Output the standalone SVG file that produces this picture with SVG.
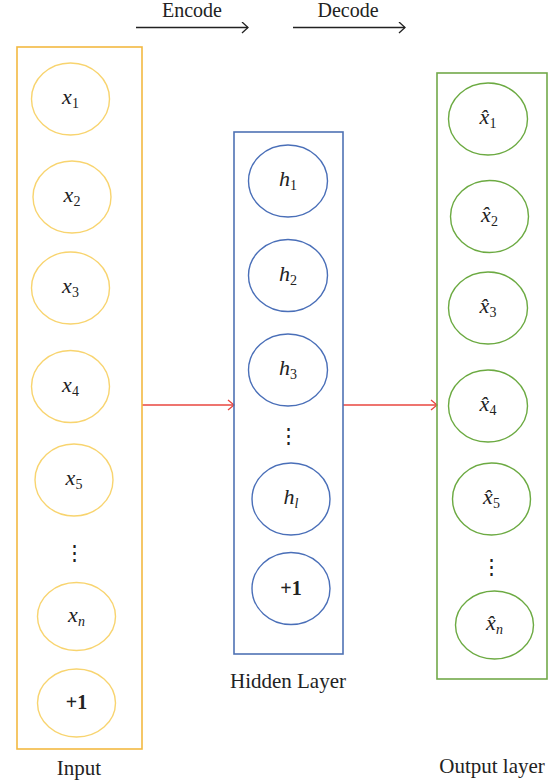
<svg xmlns="http://www.w3.org/2000/svg" width="557" height="784" viewBox="0 0 557 784">
<defs>
<style>
.lbl{font-family:"Liberation Serif","DejaVu Serif",serif;font-size:22px;fill:#222;text-anchor:middle}
.var{font-style:italic}
.sub{font-size:14px;font-style:normal}
.subi{font-size:14px;font-style:italic}
.bold{font-weight:bold;font-size:20px}
.cap{font-family:"Liberation Serif","DejaVu Serif",serif;font-size:21px;fill:#222;text-anchor:middle}
.top{font-family:"Liberation Serif","DejaVu Serif",serif;font-size:20px;fill:#222;text-anchor:middle}
.yb{fill:none;stroke:#f3b941;stroke-width:1.6}
.yc{fill:#fff;stroke:#f8d46f;stroke-width:1.4}
.bb{fill:none;stroke:#4f72b4;stroke-width:1.6}
.bc{fill:#fff;stroke:#4a6fb8;stroke-width:1.4}
.gb{fill:none;stroke:#72a94a;stroke-width:1.6}
.gc{fill:#fff;stroke:#6caa42;stroke-width:1.4}
.dots{font-family:"Liberation Serif","DejaVu Serif",serif;font-size:21px;fill:#222;text-anchor:middle}
</style>
<marker id="ak" markerWidth="12" markerHeight="12" refX="10" refY="6" orient="auto" markerUnits="userSpaceOnUse">
<path d="M4,0.5 L10,6 L4,11.5" fill="none" stroke="#222" stroke-width="1.3"/>
</marker>
<marker id="ar" markerWidth="12" markerHeight="12" refX="10" refY="6" orient="auto" markerUnits="userSpaceOnUse">
<path d="M4,1 L10,6 L4,11" fill="none" stroke="#e8463f" stroke-width="1.3"/>
</marker>
</defs>
<rect width="557" height="784" fill="#fff"/>

<g id="titles">
<text class="top" x="192" y="17">Encode</text>
<text class="top" x="348" y="17">Decode</text>
</g>

<g id="connectors">
<line x1="136" y1="27.5" x2="248" y2="27.5" stroke="#222" stroke-width="1.3" marker-end="url(#ak)"/>
<line x1="293" y1="27.5" x2="405" y2="27.5" stroke="#222" stroke-width="1.3" marker-end="url(#ak)"/>
<line x1="142" y1="405" x2="234" y2="405" stroke="#e8463f" stroke-width="1.3" marker-end="url(#ar)"/>
<line x1="343" y1="405" x2="437" y2="405" stroke="#e8463f" stroke-width="1.3" marker-end="url(#ar)"/>
</g>

<g id="input-layer">
<rect class="yb" x="17" y="47" width="125" height="702"/>
<text class="cap" x="79" y="775">Input</text>
</g>
<g id="x1"><ellipse class="yc" cx="70.5" cy="99" rx="39" ry="36"/><text class="lbl" x="70.5" y="104"><tspan class="var">x</tspan><tspan class="sub" dy="4">1</tspan></text></g>
<g id="x2"><ellipse class="yc" cx="72" cy="197" rx="39" ry="36"/><text class="lbl" x="72" y="202"><tspan class="var">x</tspan><tspan class="sub" dy="4">2</tspan></text></g>
<g id="x3"><ellipse class="yc" cx="70.5" cy="288" rx="39" ry="36"/><text class="lbl" x="70.5" y="293"><tspan class="var">x</tspan><tspan class="sub" dy="4">3</tspan></text></g>
<g id="x4"><ellipse class="yc" cx="70.5" cy="386.5" rx="39" ry="36"/><text class="lbl" x="70.5" y="391.5"><tspan class="var">x</tspan><tspan class="sub" dy="4">4</tspan></text></g>
<g id="x5"><ellipse class="yc" cx="74" cy="480" rx="39" ry="36"/><text class="lbl" x="74" y="485"><tspan class="var">x</tspan><tspan class="sub" dy="4">5</tspan></text></g>
<g id="input-dots"><text class="dots" x="74" y="560">⋮</text></g>
<g id="xn"><ellipse class="yc" cx="76.5" cy="616.5" rx="39" ry="34"/><text class="lbl" x="76.5" y="621.5"><tspan class="var">x</tspan><tspan class="subi" dy="4">n</tspan></text></g>
<g id="bias-in"><ellipse class="yc" cx="76.5" cy="703" rx="39" ry="34"/><text class="lbl bold" x="76.5" y="709">+1</text></g>

<g id="hidden-layer">
<rect class="bb" x="234" y="132" width="109" height="522"/>
<text class="cap" x="288" y="688">Hidden Layer</text>
</g>
<g id="h1"><ellipse class="bc" cx="288" cy="181" rx="39.5" ry="36"/><text class="lbl" x="288" y="186"><tspan class="var">h</tspan><tspan class="sub" dy="4">1</tspan></text></g>
<g id="h2"><ellipse class="bc" cx="288" cy="275.5" rx="39.5" ry="36"/><text class="lbl" x="288" y="280.5"><tspan class="var">h</tspan><tspan class="sub" dy="4">2</tspan></text></g>
<g id="h3"><ellipse class="bc" cx="288" cy="370" rx="39.5" ry="36"/><text class="lbl" x="288" y="375"><tspan class="var">h</tspan><tspan class="sub" dy="4">3</tspan></text></g>
<g id="hidden-dots"><text class="dots" x="288" y="443">⋮</text></g>
<g id="hl"><ellipse class="bc" cx="291" cy="499" rx="39" ry="36"/><text class="lbl" x="291" y="504"><tspan class="var">h</tspan><tspan class="subi" dy="4">l</tspan></text></g>
<g id="bias-h"><ellipse class="bc" cx="291" cy="588.5" rx="39" ry="36"/><text class="lbl bold" x="291" y="594.5">+1</text></g>

<g id="output-layer">
<rect class="gb" x="437" y="73" width="110" height="606"/>
<text class="cap" x="492" y="773">Output layer</text>
</g>
<g id="xh1"><ellipse class="gc" cx="488" cy="119" rx="39.5" ry="36"/><text class="lbl" x="488" y="124"><tspan class="var">x̂</tspan><tspan class="sub" dy="4">1</tspan></text></g>
<g id="xh2"><ellipse class="gc" cx="489.5" cy="216.5" rx="39" ry="36"/><text class="lbl" x="489.5" y="221.5"><tspan class="var">x̂</tspan><tspan class="sub" dy="4">2</tspan></text></g>
<g id="xh3"><ellipse class="gc" cx="488" cy="308" rx="39.5" ry="36"/><text class="lbl" x="488" y="313"><tspan class="var">x̂</tspan><tspan class="sub" dy="4">3</tspan></text></g>
<g id="xh4"><ellipse class="gc" cx="488" cy="406" rx="39.5" ry="36"/><text class="lbl" x="488" y="411"><tspan class="var">x̂</tspan><tspan class="sub" dy="4">4</tspan></text></g>
<g id="xh5"><ellipse class="gc" cx="491.5" cy="499" rx="39" ry="36"/><text class="lbl" x="491.5" y="504"><tspan class="var">x̂</tspan><tspan class="sub" dy="4">5</tspan></text></g>
<g id="output-dots"><text class="dots" x="491" y="574">⋮</text></g>
<g id="xhn"><ellipse class="gc" cx="494.5" cy="625" rx="39" ry="34"/><text class="lbl" x="494.5" y="630"><tspan class="var">x̂</tspan><tspan class="subi" dy="4">n</tspan></text></g>
</svg>
